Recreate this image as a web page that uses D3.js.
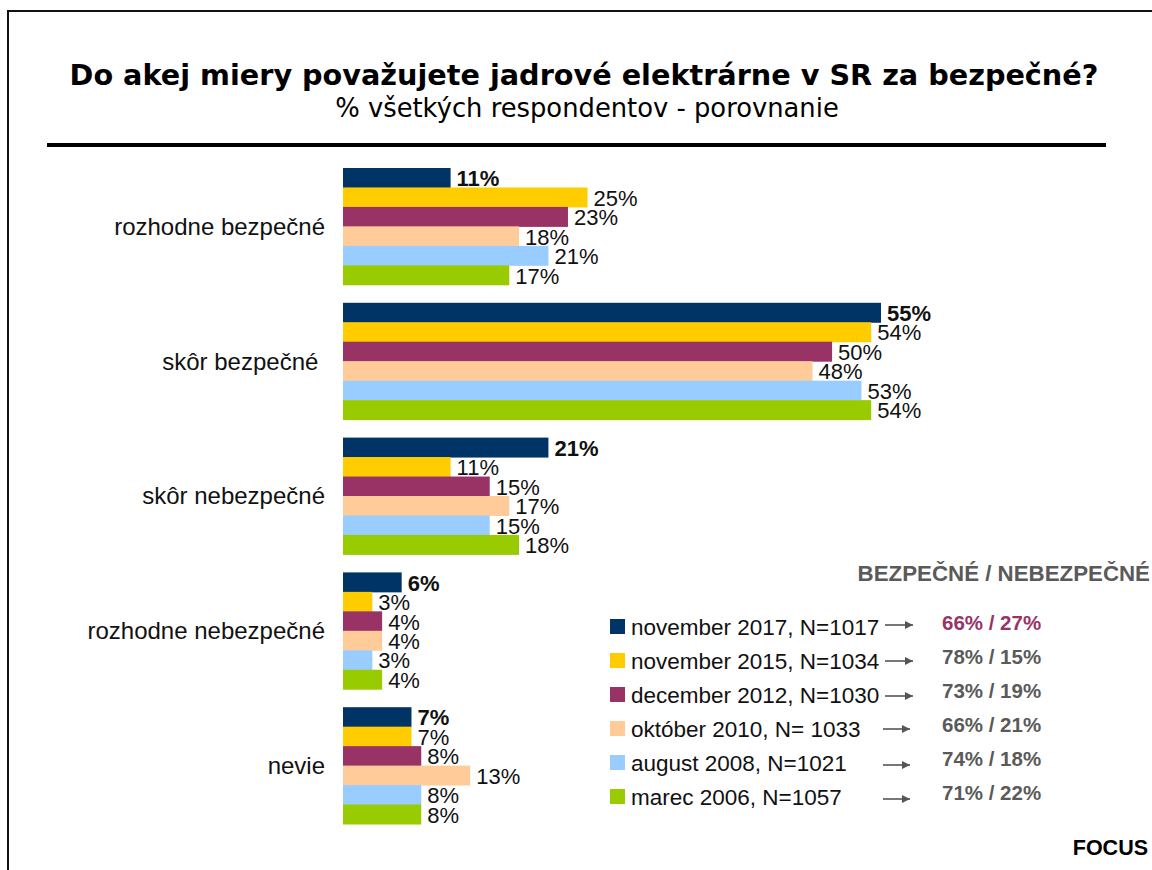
<!DOCTYPE html>
<html>
<head>
<meta charset="utf-8">
<script src="https://cdn.jsdelivr.net/npm/d3@7"></script>
<style>
  body { margin: 0; background: #fff; }
  svg { display: block; }
  text { white-space: pre; }
</style>
</head>
<body>
<svg id="svg_main"></svg>
<script>
// values
const categories = ['rozhodne bezpečné', 'skôr bezpečné ', 'skôr nebezpečné', 'rozhodne nebezpečné', 'nevie'];
const series = ['november 2017, N=1017', 'november 2015, N=1034', 'december 2012, N=1030',
                'október 2010, N= 1033', 'august 2008, N=1021', 'marec 2006, N=1057'];
const colors = ['#003366', '#FFCC00', '#993366', '#FFCC99', '#99CCFF', '#99CC00'];
const values = [
    [11, 25, 23, 18, 21, 17],
    [55, 54, 50, 48, 53, 54],
    [21, 11, 15, 17, 15, 18],
    [6, 3, 4, 4, 3, 4],
    [7, 7, 8, 13, 8, 8]
];
const summary = ['66% / 27%', '78% / 15%', '73% / 19%', '66% / 21%', '74% / 18%', '71% / 22%'];

const width = 1152, height = 870;
const svg = d3.select('#svg_main').attr('width', width).attr('height', height);

// frame (top + left)
svg.append('path')
    .attr('d', `M8,${height} V11 H${width}`)
    .attr('fill', 'none').attr('stroke', '#111').attr('stroke-width', 2);

svg.append('text')
    .attr('x', 584).attr('y', 85)
    .attr('text-anchor', 'middle')
    .attr('font-family', 'DejaVu Sans').attr('font-weight', 'bold').attr('font-size', 28.7)
    .text('Do akej miery považujete jadrové elektrárne v SR za bezpečné?');
svg.append('text')
    .attr('x', 587).attr('y', 117)
    .attr('text-anchor', 'middle')
    .attr('font-family', 'DejaVu Sans').attr('font-size', 25.8)
    .text('% všetkých respondentov - porovnanie');
svg.append('line')
    .attr('x1', 47).attr('x2', 1106).attr('y1', 145).attr('y2', 145)
    .attr('stroke', '#000').attr('stroke-width', 4);

const x = d3.scaleLinear().domain([0, 55]).range([343, 881]);
const y0 = d3.scaleBand().domain(categories).range([159, 833]).paddingInner(0.1335).paddingOuter(0.0667);
const y1 = d3.scaleBand().domain(series).range([0, y0.bandwidth()]);

const groups = svg.append('g').selectAll('g')
    .data(categories)
    .join('g')
    .attr('transform', d => `translate(0,${y0(d)})`);

groups.append('text')
    .attr('x', 325).attr('y', y0.bandwidth() / 2)
    .attr('text-anchor', 'end').attr('dominant-baseline', 'central')
    .attr('font-family', 'Liberation Sans, Arial').attr('font-size', 24).attr('fill', '#111')
    .text(d => d);

groups.selectAll('rect')
    .data((d, i) => values[i].map((v, j) => ({v, s: series[j], j})))
    .join('rect')
    .attr('x', x(0))
    .attr('y', d => y1(d.s))
    .attr('width', d => x(d.v) - x(0))
    .attr('height', y1.bandwidth() + 0.5)
    .attr('fill', d => colors[d.j]);

groups.selectAll('text.val')
    .data((d, i) => values[i].map((v, j) => ({v, s: series[j], j})))
    .join('text')
    .attr('class', 'val')
    .attr('x', d => x(d.v) + 6)
    .attr('y', d => y1(d.s) + y1.bandwidth() / 2 + 1)
    .attr('dominant-baseline', 'central')
    .attr('font-family', 'Liberation Sans, Arial').attr('font-size', 22)
    .attr('font-weight', d => d.j === 0 ? 'bold' : 'normal')
    .attr('fill', '#111')
    .text(d => d.v + '%');

// legend
svg.append('defs').append('marker')
    .attr('id', 'arrow')
    .attr('viewBox', [0, 0, 10, 10])
    .attr('refX', 10).attr('refY', 5)
    .attr('markerWidth', 10).attr('markerHeight', 8)
    .attr('markerUnits', 'userSpaceOnUse')
    .attr('orient', 'auto')
    .append('path')
    .attr('d', d3.line()([[0, 0], [10, 5], [0, 10]]))
    .attr('fill', '#555');

const ly = d3.scalePoint().domain(series).range([627, 797]);
const arrowShift = [-2, 0, 1, 0, 2, 2];
const legend = svg.append('g').selectAll('g')
    .data(series)
    .join('g')
    .attr('transform', d => `translate(0,${ly(d)})`);

legend.append('rect')
    .attr('x', 610).attr('y', -8).attr('width', 15).attr('height', 15)
    .attr('fill', (d, i) => colors[i]);
legend.append('text')
    .attr('x', 631).attr('y', 0)
    .attr('dominant-baseline', 'central')
    .attr('font-family', 'Liberation Sans, Arial').attr('font-size', 22.5).attr('fill', '#111')
    .text(d => d);
legend.append('line')
    .attr('x1', (d, i) => i < 3 ? 885 : 883).attr('x2', (d, i) => i < 3 ? 913 : 910)
    .attr('y1', (d, i) => arrowShift[i]).attr('y2', (d, i) => arrowShift[i])
    .attr('stroke', '#555').attr('stroke-width', 1.6)
    .attr('marker-end', 'url(#arrow)');
legend.append('text')
    .attr('x', 942).attr('y', -5)
    .attr('dominant-baseline', 'central')
    .attr('font-family', 'Liberation Sans, Arial').attr('font-size', 20.5).attr('font-weight', 'bold')
    .attr('fill', (d, i) => i === 0 ? '#993366' : '#5a5a5a')
    .text((d, i) => summary[i]);

svg.append('text')
    .attr('x', 1150).attr('y', 573)
    .attr('text-anchor', 'end').attr('dominant-baseline', 'central')
    .attr('font-family', 'Liberation Sans, Arial').attr('font-size', 22.3).attr('font-weight', 'bold')
    .attr('fill', '#5a5a5a')
    .text('BEZPEČNÉ / NEBEZPEČNÉ');

svg.append('text')
    .attr('x', 1148).attr('y', 848)
    .attr('text-anchor', 'end').attr('dominant-baseline', 'central')
    .attr('font-family', 'Liberation Sans, Arial').attr('font-size', 21.5).attr('font-weight', 'bold')
    .attr('fill', '#000')
    .text('FOCUS');
</script>
</body>
</html>
